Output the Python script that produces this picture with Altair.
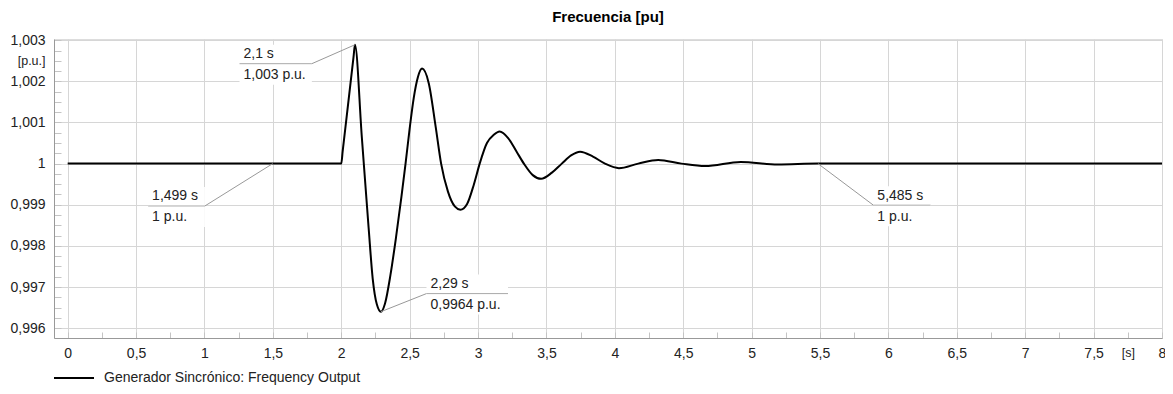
import altair as alt
import pandas as pd

# ---- data ----
series_name = "Generador Sincrónico: Frequency Output"
t_vals = [0.0, 2.0, 2.01, 2.09, 2.1, 2.15, 2.2, 2.23, 2.26, 2.29,
          2.32, 2.36, 2.40, 2.44, 2.47, 2.50, 2.53, 2.56, 2.591,
          2.64, 2.69, 2.73, 2.78, 2.83, 2.871,
          2.92, 2.97, 3.012, 3.065, 3.115, 3.158,
          3.22, 3.28, 3.335, 3.40, 3.461,
          3.54, 3.612, 3.68, 3.746,
          3.84, 3.928, 4.03, 4.171, 4.317, 4.487, 4.66, 4.92, 5.19, 5.485, 8.0]
f_vals = [1.0, 1.0, 1.00029, 1.00260, 1.00289, 1.00066, 0.99844, 0.99720, 0.99658, 0.99640,
          0.99660, 0.99730, 0.99820, 0.99920, 1.0, 1.00085, 1.00160, 1.00210, 1.00231,
          1.00195, 1.00090, 1.0, 0.99932, 0.99896, 0.99888,
          0.99902, 0.99950, 1.0, 1.00050, 1.00070, 1.00078,
          1.00062, 1.00030, 1.0, 0.99972, 0.99963,
          0.99978, 1.0, 1.00020, 1.00029,
          1.00017, 1.0, 0.99989, 1.0, 1.00009, 1.0, 0.99994, 1.00004, 0.99998, 1.0, 1.0]

# annotations
ann_top = ["2,1 s", "1,499 s", "2,29 s", "5,485 s"]
ann_bottom = ["1,003 p.u.", "1 p.u.", "0,9964 p.u.", "1 p.u."]
ann_t = [2.1, 1.499, 2.29, 5.485]
ann_v = [1.00289, 1.0, 0.99640, 1.0]
lab_t0 = [1.256, 0.588, 2.623, 5.890]
lab_t1 = [1.785, 1.003, 3.219, 6.308]
lab_v = [1.00243, 0.99897, 0.99684, 0.99899]
conn_t = [1.785, 1.003, 2.623, 5.890]

x_major = [0, 0.5, 1, 1.5, 2, 2.5, 3, 3.5, 4, 4.5, 5, 5.5, 6, 6.5, 7, 7.5, 7.75, 8]
y_major = [0.996, 0.997, 0.998, 0.999, 1, 1.001, 1.002, 1.0025, 1.003]
x_minor = [round(i * 0.25, 2) for i in range(33)]
y_minor = [round(0.996 + i * 0.00025, 5) for i in range(29)]

line_df = pd.DataFrame({"t": t_vals, "f": f_vals, "serie": series_name})
ann_df = pd.DataFrame({"top": ann_top, "bottom": ann_bottom, "t": ann_t, "v": ann_v,
                       "t0": lab_t0, "t1": lab_t1, "lv": lab_v, "ct": conn_t})

FONT = "Liberation Sans"
GRID = "#d6d6d6"
xs = alt.Scale(domain=[-0.1, 8], nice=False, zero=False)
ys = alt.Scale(domain=[0.99576, 1.00303], nice=False, zero=False)

main_x_axis = alt.Axis(values=x_major, title=None, grid=True, gridColor=GRID, orient="bottom",
                       gridOpacity={"condition": {"test": "datum.value == 7.75", "value": 0}, "value": 1},
                       labelFontSize={"condition": {"test": "datum.value == 7.75", "value": 12.5}, "value": 14},
                       ticks=False, labelPadding=8, domainColor="#999999",
                       labelFont=FONT, labelColor="#222222",
                       labelExpr="datum.value == 7.75 ? '[s]' : replace(toString(datum.value), '.', ',')",
                       labelFlush=False, labelOverlap=False)
main_y_axis = alt.Axis(values=y_major, title=None, grid=True, gridColor=GRID, orient="left",
                       gridOpacity={"condition": {"test": "datum.value == 1.0025", "value": 0}, "value": 1},
                       labelFontSize={"condition": {"test": "datum.value == 1.0025", "value": 12.5}, "value": 14},
                       ticks=False, labelPadding=9, domainColor="#999999",
                       labelFont=FONT, labelColor="#222222",
                       labelExpr="datum.value == 1.0025 ? '[p.u.]' : replace(toString(datum.value), '.', ',')",
                       labelFlush=False, labelOverlap=False)
minor_x_axis = alt.Axis(values=x_minor, title=None, grid=False, domain=False, labels=False,
                        ticks=True, tickSize=6, offset=-6, tickColor="#c4c4c4", orient="bottom")
minor_y_axis = alt.Axis(values=y_minor, title=None, grid=False, domain=False, labels=False,
                        ticks=True, tickSize=7, offset=-7, tickColor="#c4c4c4", orient="left")

boxes = alt.Chart(ann_df).mark_rect(color="white", yOffset=-19, y2Offset=21).encode(
    x=alt.X("t0:Q", scale=xs, axis=minor_x_axis),
    x2="t1:Q",
    y=alt.Y("lv:Q", scale=ys, axis=minor_y_axis),
    y2="lv:Q",
)

line = alt.Chart(line_df).mark_line(strokeWidth=2, interpolate="monotone").encode(
    x=alt.X("t:Q", scale=xs, axis=main_x_axis),
    y=alt.Y("f:Q", scale=ys, axis=main_y_axis),
    color=alt.Color("serie:N", scale=alt.Scale(range=["#000000"]),
                    legend=alt.Legend(title=None, orient="none", legendX=-1, legendY=318,
                                      symbolType="stroke", symbolSize=1600, symbolStrokeWidth=2,
                                      labelFont=FONT, labelFontSize=14, labelColor="#222222",
                                      labelOffset=9, padding=0, labelLimit=400)),
)

leaders = alt.Chart(ann_df).mark_rule(color="#999999", strokeWidth=1).encode(
    x=alt.X("t:Q", scale=xs, axis=None), y=alt.Y("v:Q", scale=ys, axis=None),
    x2="ct:Q", y2="lv:Q")
underlines = alt.Chart(ann_df).mark_rule(color="#aaaaaa", strokeWidth=1).encode(
    x=alt.X("t0:Q", scale=xs, axis=None), x2="t1:Q", y=alt.Y("lv:Q", scale=ys, axis=None))
txt_top = alt.Chart(ann_df).mark_text(align="left", baseline="middle", dx=4, dy=-9.5,
                                      font=FONT, fontSize=14, color="#222222").encode(
    x=alt.X("t0:Q", scale=xs, axis=None), y=alt.Y("lv:Q", scale=ys, axis=None), text="top:N")
txt_bot = alt.Chart(ann_df).mark_text(align="left", baseline="middle", dx=4, dy=11.5,
                                      font=FONT, fontSize=14, color="#222222").encode(
    x=alt.X("t0:Q", scale=xs, axis=None), y=alt.Y("lv:Q", scale=ys, axis=None), text="bottom:N")

chart = alt.layer(boxes, line, leaders, underlines, txt_top, txt_bot).resolve_axis(
    x="independent", y="independent"
).properties(
    width=1108, height=299,
    autosize=alt.AutoSizeParams(type="none"),
    padding={"left": 46, "top": 31, "right": 3, "bottom": 48},
    title=alt.TitleParams("Frecuencia [pu]", font=FONT, fontSize=15, fontWeight="bold",
                          color="#000000", anchor="middle", frame="group", offset=8),
).configure_view(stroke=GRID).configure(background="white")

chart.save("out.html", embed_options={"renderer": "svg", "actions": False})
